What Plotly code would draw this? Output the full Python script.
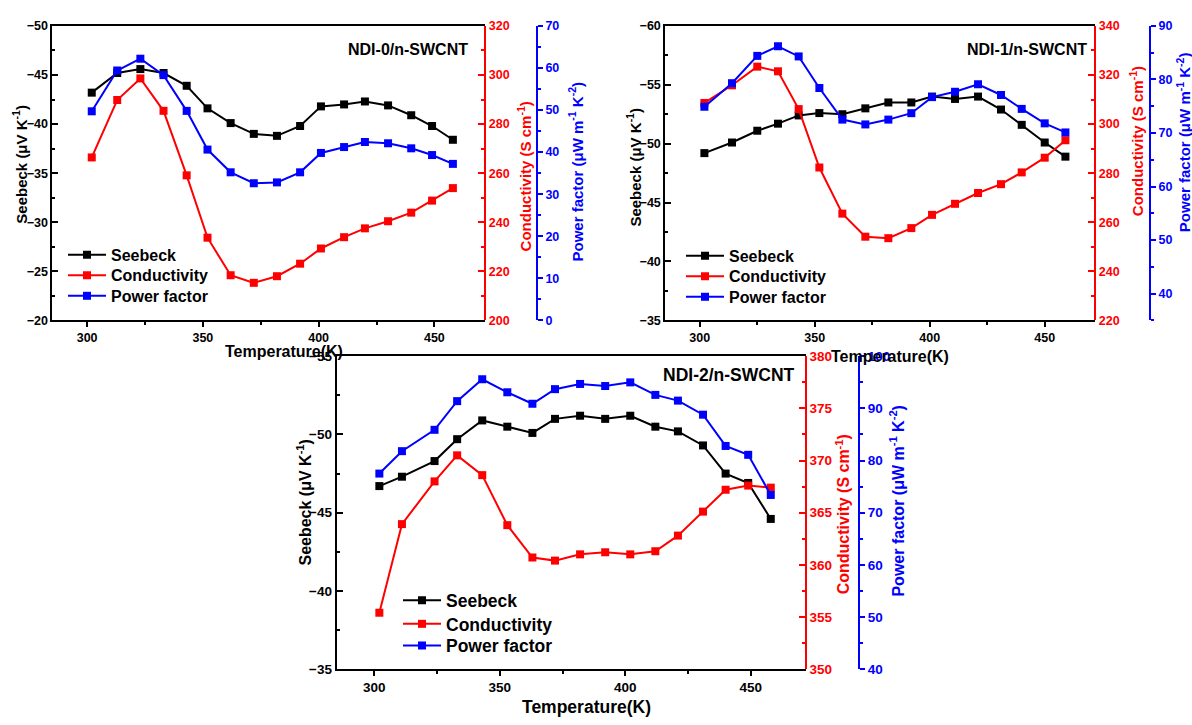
import plotly.graph_objects as go

# ---------------- data ----------------
T0 = [302, 313, 323, 333, 343, 352, 362, 372, 382, 392, 401, 411, 420, 430, 440, 449, 458]
S0 = [-43.2, -45.2, -45.6, -45.2, -43.9, -41.6, -40.1, -39.0, -38.8, -39.8, -41.8, -42.0, -42.3, -41.9, -40.9, -39.8, -38.4]
C0 = [266.4, 289.8, 298.6, 285.4, 259.1, 233.7, 218.4, 215.3, 218.0, 223.1, 229.3, 233.9, 237.5, 240.4, 243.9, 248.8, 253.9]
P0 = [49.7, 59.4, 62.2, 58.3, 49.8, 40.6, 35.2, 32.6, 32.8, 35.2, 39.8, 41.2, 42.4, 42.1, 40.9, 39.3, 37.2]

T1 = [302, 314, 325, 334, 343, 352, 362, 372, 382, 392, 401, 411, 421, 431, 440, 450, 459]
S1 = [-49.2, -50.1, -51.1, -51.7, -52.4, -52.6, -52.5, -53.0, -53.5, -53.5, -54.0, -53.8, -54.0, -52.9, -51.6, -50.1, -48.9]
C1 = [308.6, 315.8, 323.4, 321.5, 306.1, 282.3, 263.5, 254.1, 253.5, 257.6, 263.0, 267.5, 271.9, 275.5, 280.3, 286.3, 293.4]
P1 = [74.9, 79.3, 84.4, 86.2, 84.3, 78.4, 72.5, 71.6, 72.5, 73.7, 76.7, 77.7, 79.1, 77.1, 74.5, 71.8, 70.1]

T2 = [302, 311, 324, 333, 343, 353, 363, 372, 382, 392, 402, 412, 421, 431, 440, 449, 458]
S2 = [-46.7, -47.3, -48.3, -49.7, -50.9, -50.5, -50.1, -51.0, -51.2, -51.0, -51.2, -50.5, -50.2, -49.3, -47.5, -46.9, -44.6]
C2 = [355.4, 363.9, 368.0, 370.5, 368.6, 363.8, 360.7, 360.4, 361.0, 361.2, 361.0, 361.3, 362.8, 365.1, 367.2, 367.6, 367.4]
P2 = [77.5, 81.8, 85.9, 91.4, 95.6, 93.1, 90.9, 93.7, 94.7, 94.3, 95.0, 92.6, 91.5, 88.8, 82.8, 81.1, 73.4]

TITLES = ["NDI-0/n-SWCNT", "NDI-1/n-SWCNT", "NDI-2/n-SWCNT"]
SERIES = ["Seebeck", "Conductivity", "Power factor"]
X_TITLE = "Temperature(K)"
S_TITLE = "Seebeck (μV K<sup>-1</sup>)"
C_TITLE = "Conductivity (S cm<sup>-1</sup>)"
P_TITLE = "Power factor (μW m<sup>-1</sup> K<sup>-2</sup>)"

# ---------------- layout helpers ----------------
W, H = 1192, 725
FONT = "Arial, 'Liberation Sans', sans-serif"
BLACK, RED, BLUE = "#000000", "#FF0000", "#0000FF"


def px(x):
    return x / W


def py(y):
    return 1 - y / H


panels = [
    dict(T=T0, S=S0, C=C0, P=P0, x0=52.4, x1=485.3, y0=19.3, y1=320, pb=536.9,
         sr=[-20, -50], cr=[200, 320], pr=[0, 70], cd=20, pd=10, pt0=0,
         fs=12.5, tf=15, xtf=16, lf=16,
         xt=(284, 352), st=(20, 161), ct=(524, 173), pt=(576, 168), title=(470, 43),
         legx=63, legy=[253, 274, 295]),
    dict(T=T1, S=S1, C=C1, P=P1, x0=665.3, x1=1095.3, y0=19.3, y1=320, pb=1150,
         sr=[-35, -60], cr=[220, 340], pr=[35, 90], cd=20, pd=10, pt0=40,
         fs=12.5, tf=15, xtf=16, lf=16,
         xt=(890, 357), st=(634, 164), ct=(1136, 137), pt=(1183, 138), title=(1089, 43),
         legx=681, legy=[254, 275, 296]),
    dict(T=T2, S=S2, C=C2, P=P2, x0=336.7, x1=805.9, y0=356.7, y1=676, pb=859,
         sr=[-35, -55], cr=[350, 380], pr=[40, 100], cd=5, pd=10, pt0=40,
         fs=13.5, tf=16, xtf=17.5, lf=17.5,
         xt=(586, 715), st=(304, 506), ct=(843, 518), pt=(897, 505), title=(797, 376),
         legx=398, legy=[606, 630, 652]),
]

fig = go.Figure()
layout = dict(width=W, height=H, margin=dict(l=0, r=0, t=0, b=0),
              paper_bgcolor="white", plot_bgcolor="rgba(0,0,0,0)",
              font=dict(family=FONT, color=BLACK), annotations=[], showlegend=True)


def yname(k):
    return "" if k == 1 else str(k)


for i, p in enumerate(panels):
    xn = "" if i == 0 else str(i + 1)
    ya, yb, yc = 3 * i + 1, 3 * i + 2, 3 * i + 3

    xdom = [px(p["x0"]), px(p["x1"])]
    ydom = [py(p["y1"]), py(p["y0"])]

    def tickf(c):
        return dict(family=FONT, size=p["fs"], color=c, weight="bold")

    layout["xaxis" + xn] = dict(
        domain=xdom, anchor="y" + yname(ya), range=[285, 472],
        tick0=300, dtick=50, ticks="outside", ticklen=5, tickwidth=1.5, tickcolor=BLACK,
        minor=dict(dtick=25, tick0=300, ticks="outside", ticklen=3, tickwidth=1.5, tickcolor=BLACK),
        showline=True, linecolor=BLACK, linewidth=2, mirror=True,
        showgrid=False, zeroline=False, tickfont=tickf(BLACK))
    layout["yaxis" + yname(ya)] = dict(
        domain=ydom, anchor="x" + xn, range=p["sr"], tick0=-60, dtick=5,
        ticks="inside", ticklen=6, tickwidth=1.5, tickcolor=BLACK,
        minor=dict(dtick=2.5, tick0=-60, ticks="inside", ticklen=3, tickwidth=1.5, tickcolor=BLACK),
        showline=True, linecolor=BLACK, linewidth=2, showgrid=False, zeroline=False,
        tickfont=tickf(BLACK))
    layout["yaxis" + yname(yb)] = dict(
        domain=ydom, overlaying="y" + yname(ya), anchor="free", position=px(p["x1"]), side="right",
        range=p["cr"], tick0=p["cr"][0], dtick=p["cd"],
        ticks="inside", ticklen=6, tickwidth=1.5, tickcolor=RED,
        minor=dict(dtick=p["cd"] / 2, tick0=p["cr"][0], ticks="inside", ticklen=3, tickwidth=1.5, tickcolor=RED),
        showline=True, linecolor=RED, linewidth=2, showgrid=False, zeroline=False,
        tickfont=tickf(RED))
    layout["yaxis" + yname(yc)] = dict(
        domain=ydom, overlaying="y" + yname(ya), anchor="free", position=px(p["pb"]), side="right",
        range=p["pr"], tick0=p["pt0"], dtick=p["pd"],
        ticks="outside", ticklen=5, tickwidth=1.5, tickcolor=BLUE,
        minor=dict(dtick=p["pd"] / 2, tick0=p["pt0"], ticks="outside", ticklen=3, tickwidth=1.5, tickcolor=BLUE),
        showline=True, linecolor=BLUE, linewidth=2, showgrid=False, zeroline=False,
        tickfont=tickf(BLUE))

    series = [(SERIES[0], p["S"], BLACK, ya), (SERIES[1], p["C"], RED, yb),
              (SERIES[2], p["P"], BLUE, yc)]
    for j, (name, vals, col, yk) in enumerate(series):
        k = 3 * i + j + 1
        leg = "legend" if k == 1 else "legend%d" % k
        fig.add_trace(go.Scatter(
            x=p["T"], y=vals, name=name, mode="lines+markers",
            line=dict(color=col, width=2), marker=dict(symbol="square", size=8, color=col),
            xaxis="x" + xn, yaxis="y" + yname(yk), legend=leg, cliponaxis=False))
        layout[leg] = dict(x=px(p["legx"]), y=py(p["legy"][j]), xanchor="left", yanchor="middle",
                           bgcolor="rgba(0,0,0,0)", borderwidth=0, itemwidth=38,
                           font=dict(family=FONT, size=p["lf"], color=BLACK, weight="bold"))

    def ann(text, xy, size, color, angle=0, xanchor="center"):
        layout["annotations"].append(dict(
            text=text, x=px(xy[0]), y=py(xy[1]), xref="paper", yref="paper",
            xanchor=xanchor, yanchor="middle", showarrow=False, textangle=angle,
            font=dict(family=FONT, size=size, color=color, weight="bold")))

    ann(X_TITLE, p["xt"], p["xtf"], BLACK)
    ann(S_TITLE, p["st"], p["tf"], BLACK, -90)
    ann(C_TITLE, p["ct"], p["tf"], RED, -90)
    ann(P_TITLE, p["pt"], p["tf"], BLUE, -90)
    ann(TITLES[i], p["title"], p["lf"], BLACK, xanchor="right")

fig.update_layout(**layout)
fig.write_html("out.html")
